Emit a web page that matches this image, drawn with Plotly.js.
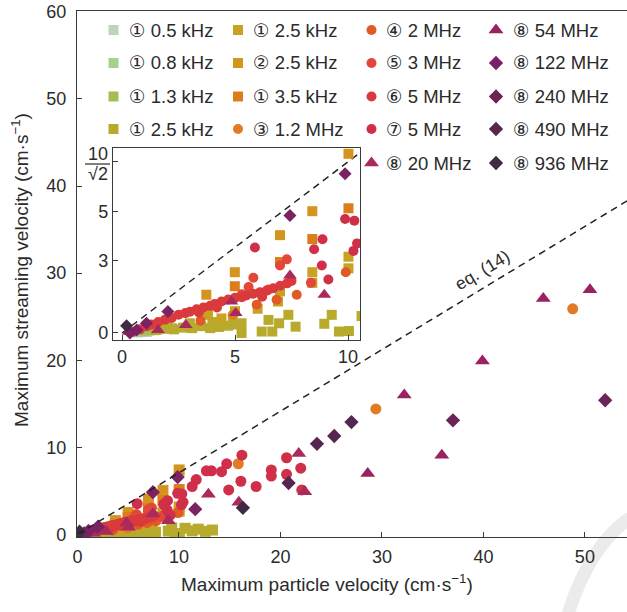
<!DOCTYPE html>
<html><head><meta charset="utf-8">
<script src="https://cdn.plot.ly/plotly-3.0.1.min.js"></script>
<style>body{margin:0;background:#fff}</style>
</head><body><div id="chart" style="width:627px;height:612px"></div>
<script>
// ---------------- data ----------------
const names = ['① 0.5 kHz','① 0.8 kHz','① 1.3 kHz','① 2.5 kHz','① 2.5 kHz','② 2.5 kHz','① 3.5 kHz','③ 1.2 MHz',
  '④ 2 MHz','⑤ 3 MHz','⑥ 5 MHz','⑦ 5 MHz','⑧ 20 MHz','⑧ 54 MHz','⑧ 122 MHz','⑧ 240 MHz','⑧ 490 MHz','⑧ 936 MHz'];

const x_1_05k = [0.7, 0.9, 1.1];
const y_1_05k = [0.02, 0.05, 0.04];
const x_1_08k = [0.8, 1.0, 1.2, 1.4];
const y_1_08k = [0.05, 0.08, 0.1, 0.12];
const x_1_13k = [1.0, 1.3, 1.6, 1.9, 2.2];
const y_1_13k = [0.1, 0.12, 0.15, 0.18, 0.2];
const x_1_25k_a = [1.5, 1.9, 2.3, 2.7, 3.1, 3.5, 3.9, 4.3, 4.7, 5.1, 5.29, 5.29, 6.18, 6.48, 6.65, 6.95, 7.36, 7.68, 8.95, 9.28, 9.6, 10.04, 10.6, 11.3, 11.9, 12.6, 13.3, 2.0, 3.0, 4.0, 4.9];
const y_1_25k_a = [0.12, 0.18, 0.15, 0.22, 0.2, 0.28, 0.2, 0.25, 0.3, 0.35, 0.4, 0.0, 0.06, 0.54, 0.06, 0.4, 0.75, 0.26, 0.38, 0.75, 0.06, 0.08, 0.7, 0.4, 0.6, 0.35, 0.5, 0.35, 0.4, 0.45, 0.55];
const x_1_25k_b = [3.8, 5.0, 6.9, 6.99, 8.42, 8.42, 10.02, 10.02, 4.4, 6.0];
const y_1_25k_b = [0.75, 0.9, 1.3, 1.72, 2.51, 2.07, 3.15, 2.67, 0.6, 1.0];
const x_2_25k = [3.73, 4.99, 6.99, 8.42, 10.02];
const y_2_25k = [1.58, 2.51, 4.04, 5.03, 7.4];
const x_1_35k = [4.99, 6.99, 8.42, 10.02];
const y_1_35k = [1.93, 2.93, 3.88, 5.15];
const x_3_12M = [4.9, 15.84, 29.4, 48.8];
const y_3_12M = [0.75, 8.11, 14.4, 25.9];
const x_4_2M = [3.47, 5.96, 6.84, 7.73, 9.9];
const y_4_2M = [0.51, 1.17, 1.37, 1.58, 2.51];
const x_5_3M = [5.6, 5.81, 6.99, 7.29, 8.36, 5.3, 6.5];
const y_5_3M = [1.9, 2.28, 2.79, 3.04, 2.07, 1.6, 1.8];
const x_6_5M = [0.5, 0.8, 1.1, 1.3, 1.6, 1.9, 2.2, 2.5, 2.8, 3.0, 3.3, 3.6, 3.9, 4.1, 4.4, 4.7, 5.0, 5.3, 5.5, 5.8, 6.1, 6.4, 6.7, 7.0, 7.3, 7.5, 4.2, 3.4, 6.2];
const y_6_5M = [0.05, 0.15, 0.28, 0.35, 0.45, 0.55, 0.62, 0.75, 0.82, 0.88, 0.98, 1.05, 1.12, 1.2, 1.3, 1.38, 1.45, 1.48, 1.55, 1.62, 1.68, 1.75, 1.85, 1.95, 2.05, 2.15, 1.05, 0.85, 1.5];
const x_7_5M = [5.88, 8.87, 8.5, 8.84, 9.13, 9.87, 10.28, 10.24, 10.4, 11.3, 11.7, 12.7, 13.2, 14.2, 14.7, 16.2, 16.1, 17.6, 14.9, 19.1, 19.1, 20.6, 20.6, 22.0, 22.1];
const y_7_5M = [3.53, 3.87, 3.46, 2.79, 2.21, 4.71, 4.64, 3.39, 3.7, 5.5, 6.3, 7.3, 7.3, 7.2, 8.1, 9.1, 6.1, 5.5, 5.1, 7.4, 6.7, 8.8, 6.9, 7.6, 5.1];
const x_8_20M = [0.3, 1.59, 2.82, 4.84, 5.03, 7.43, 8.95, 12.9, 15.9, 22.4, 21.8];
const y_8_20M = [0.05, 0.12, 0.33, 1.3, 0.82, 2.37, 1.58, 4.6, 3.7, 4.9, 9.3];
const x_8_54M = [28.6, 32.2, 35.9, 39.9, 45.9, 50.5];
const y_8_54M = [7.0, 16.0, 9.1, 19.9, 27.1, 28.1];
const x_8_122M = [0.35, 0.65, 1.08, 2.03, 7.43, 9.87, 11.6];
const y_8_122M = [0.0, 0.12, 0.4, 0.89, 4.85, 6.58, 2.9];
const x_8_240M = [37.0, 52.0];
const y_8_240M = [13.1, 15.4];
const x_8_490M = [20.8, 23.6, 25.3, 27.0];
const y_8_490M = [5.9, 10.4, 11.3, 12.9];
const x_8_936M = [0.2, 16.3];
const y_8_936M = [0.3, 3.05];

// eq. (14) reference line
const eqX = [0, 56];
const eqY = [0, 39.6];
const eqXin = [0, 11];
const eqYin = [0, 7.78];

// inset y tick labels
const insetYTicks = [0, 3, 5, 7.0711];
const insetYText = ['0', '3', '5', ''];

// ---------------- styling ----------------
const xs = [x_1_05k,x_1_08k,x_1_13k,x_1_25k_a,x_1_25k_b,x_2_25k,x_1_35k,x_3_12M,x_4_2M,x_5_3M,x_6_5M,x_7_5M,x_8_20M,x_8_54M,x_8_122M,x_8_240M,x_8_490M,x_8_936M];
const ys = [y_1_05k,y_1_08k,y_1_13k,y_1_25k_a,y_1_25k_b,y_2_25k,y_1_35k,y_3_12M,y_4_2M,y_5_3M,y_6_5M,y_7_5M,y_8_20M,y_8_54M,y_8_122M,y_8_240M,y_8_490M,y_8_936M];
const colors = ['#bdd5b8','#a6d08c','#a3be57','#b7aa2c','#c9a224','#d4951f','#dc7d1b','#e27a26',
  '#e05a26','#e2473a','#da3a3c','#cf2f48','#a92a5d','#9a2262','#7b2262','#6b2458','#55264f','#402a44'];
const symbols = ['square','square','square','square','square','square','square','circle',
  'circle','circle','circle','circle','triangle-up','triangle-up','diamond','diamond','diamond','diamond'];
const sizeFor = s => s === 'triangle-up' ? 13 : 11;

// legend layout (pixels in the 627x612 page)
const legCol = [0,0,0,0,1,1,1,1,2,2,2,2,2,3,3,3,3,3];
const legRow = [0,1,2,3,0,1,2,3,0,1,2,3,4,0,1,2,3,4];
const colSymX = [113.5, 238, 371.5, 496];
const colTxtX = [127, 251, 384, 511];
const rowY = [30, 63, 96.5, 129, 163];

const L = 77, T = 11, PW = 550, PH = 526;
const fx = px => (px - L) / PW;
const fy = py => (T + PH - py) / PH;

const FONT = 'Liberation Sans, Arial, DejaVu Sans, sans-serif';
const TXT = '#2b2b2b';

const traces = [];
// main
for (let i = 0; i < names.length; i++) {
  traces.push({type:'scatter', mode:'markers', x: xs[i], y: ys[i], xaxis:'x', yaxis:'y', name: names[i],
    marker:{symbol: symbols[i], color: colors[i], size: sizeFor(symbols[i]), line:{width:0}}, hoverinfo:'skip'});
}
traces.push({type:'scatter', mode:'lines', x: eqX, y: eqY, xaxis:'x', yaxis:'y',
  line:{color:'#222', width:1.5, dash:'7px,5px'}, hoverinfo:'skip'});
// legend symbols (layout positions on an overlay axis spanning the plot area)
for (let i = 0; i < names.length; i++) {
  traces.push({type:'scatter', mode:'markers', x:[fx(colSymX[legCol[i]])], y:[fy(rowY[legRow[i]])], xaxis:'x3', yaxis:'y3',
    marker:{symbol: symbols[i], color: colors[i], size: symbols[i]==='triangle-up'?13:(symbols[i]==='diamond'?11:10), line:{width:0}}, hoverinfo:'skip'});
}
// inset
traces.push({type:'scatter', mode:'lines', x: eqXin, y: eqYin, xaxis:'x2', yaxis:'y2',
  line:{color:'#222', width:1.5, dash:'7px,5px'}, hoverinfo:'skip'});
for (let i = 0; i < names.length; i++) {
  traces.push({type:'scatter', mode:'markers', x: xs[i], y: ys[i], xaxis:'x2', yaxis:'y2', name: names[i],
    marker:{symbol: symbols[i], color: colors[i], size: sizeFor(symbols[i]) - 1, line:{width:0}}, hoverinfo:'skip'});
}

const annotations = [];
for (let i = 0; i < names.length; i++) {
  annotations.push({xref:'paper', yref:'paper', x: fx(colTxtX[legCol[i]]), y: fy(rowY[legRow[i]]),
    xanchor:'left', yanchor:'middle', showarrow:false, text: names[i], font:{family:FONT, size:18.5, color:TXT}});
}
annotations.push({xref:'paper', yref:'paper', x: fx(327), y: fy(583), xanchor:'center', yanchor:'middle', showarrow:false,
  text:'Maximum particle velocity (cm·s<sup>−1</sup>)', font:{family:FONT, size:19, color:TXT}});
annotations.push({xref:'paper', yref:'paper', x: fx(20), y: fy(270), xanchor:'center', yanchor:'middle', showarrow:false, textangle:-90,
  text:'Maximum streaming velocity (cm·s<sup>−1</sup>)', font:{family:FONT, size:19, color:TXT}});
annotations.push({xref:'x', yref:'y', x: 39.9, y: 30.4, xanchor:'center', yanchor:'middle', showarrow:false, textangle:-31,
  text:'eq. (14)', font:{family:FONT, size:17.5, color:TXT}});
annotations.push({xref:'paper', yref:'paper', x: fx(97.5), y: fy(154), xanchor:'center', yanchor:'middle', showarrow:false, text:'10', font:{family:FONT, size:18, color:TXT}});
annotations.push({xref:'paper', yref:'paper', x: fx(97.5), y: fy(174), xanchor:'center', yanchor:'middle', showarrow:false, text:'√2', font:{family:FONT, size:18, color:TXT}});

const shapes = [
  {type:'line', xref:'paper', yref:'paper', x0: fx(85), x1: fx(110), y0: fy(164), y1: fy(164), line:{color:TXT, width:1.2}},
  {type:'path', xref:'paper', yref:'paper', layer:'below',
   path:'M ' + fx(568) + ',' + fy(614) + ' Q ' + fx(590) + ',' + fy(545) + ' ' + fx(630) + ',' + fy(518),
   line:{color:'#ebebeb', width:13}}
];

const axBase = {showgrid:false, zeroline:false, showline:true, linecolor:'#3a3a3a', linewidth:1.2,
  ticks:'inside', ticklen:5, tickcolor:'#3a3a3a', tickfont:{family:FONT, size:18, color:TXT}};

const layout = {
  width:627, height:612, margin:{l:L, r:0, t:T, b:612-T-PH},
  paper_bgcolor:'#fff', plot_bgcolor:'rgba(0,0,0,0)', showlegend:false,
  font:{family:FONT, size:18, color:TXT},
  xaxis: Object.assign({}, axBase, {domain:[0,1], range:[-0.05, 54.15], tickvals:[0,10,20,30,40,50], mirror:true, anchor:'y', ticklabelstandoff:3}),
  yaxis: Object.assign({}, axBase, {domain:[0,1], range:[-0.3, 60.1], tickvals:[0,10,20,30,40,50,60], mirror:false, anchor:'x', ticklabelstandoff:6}),
  xaxis2: Object.assign({}, axBase, {domain:[fx(113), fx(360)], range:[-0.4, 10.53], tickvals:[0,5,10], mirror:true, anchor:'y2'}),
  yaxis2: Object.assign({}, axBase, {domain:[fy(340), fy(148)], range:[-0.29, 7.64], tickvals: insetYTicks, ticktext: insetYText, mirror:true, anchor:'x2'}),
  xaxis3: {domain:[0,1], range:[0,1], visible:false, fixedrange:true, anchor:'y3', overlaying:'x'},
  yaxis3: {domain:[0,1], range:[0,1], visible:false, fixedrange:true, anchor:'x3', overlaying:'y'},
  annotations: annotations,
  shapes: shapes
};

Plotly.newPlot('chart', traces, layout, {displayModeBar:false, staticPlot:true});
</script>
</body></html>
